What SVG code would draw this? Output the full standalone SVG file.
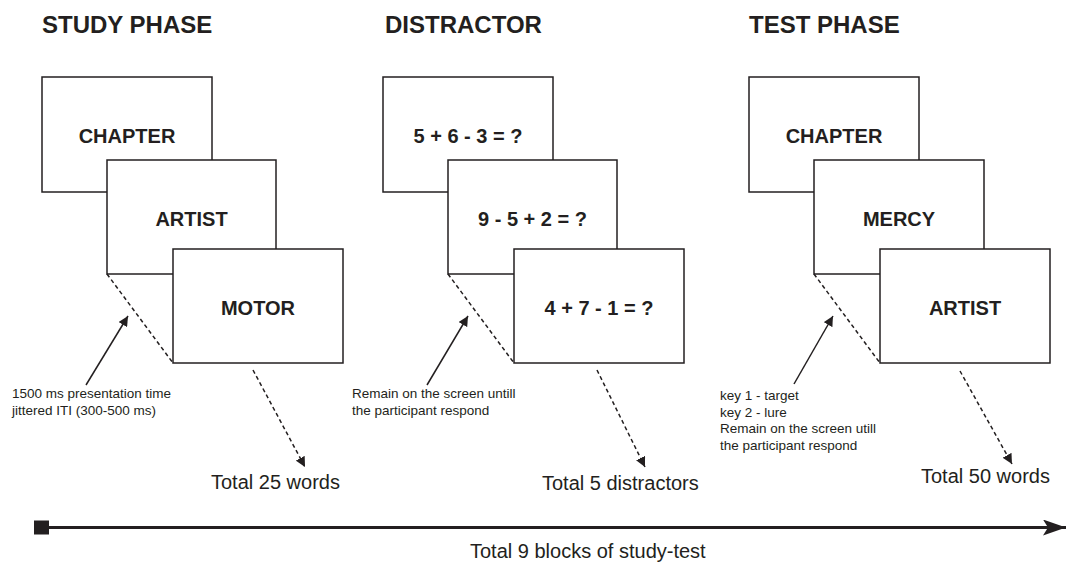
<svg xmlns="http://www.w3.org/2000/svg" width="1069" height="565" viewBox="0 0 1069 565">
<defs>
<style>
.title{font-family:"Liberation Sans",Arial,sans-serif;font-weight:bold;font-size:24px;fill:#231f20}
.box{fill:#fff;stroke:#231f20;stroke-width:1.5}
.bt{font-family:"Liberation Sans",Arial,sans-serif;font-weight:bold;font-size:20px;fill:#231f20;text-anchor:middle}
.ann{font-family:"Liberation Sans",Arial,sans-serif;font-size:13.5px;fill:#231f20}
.tot{font-family:"Liberation Sans",Arial,sans-serif;font-size:20px;fill:#231f20}
.dash{stroke:#231f20;stroke-width:1.5;stroke-dasharray:4 3;fill:none}
.solid{stroke:#231f20;stroke-width:1.5;fill:none}
</style>
<marker id="ah" markerUnits="userSpaceOnUse" markerWidth="11" markerHeight="10" refX="10" refY="5" orient="auto">
<path d="M0,0 L10,5 L0,10 z" fill="#231f20"/>
</marker>
<marker id="big" markerUnits="userSpaceOnUse" markerWidth="24" markerHeight="16" refX="23" refY="8" orient="auto">
<path d="M0,0 L23,8 L0,16 L5,8 z" fill="#231f20"/>
</marker>
</defs>

<g id="study">
<text class="title" x="42" y="33">STUDY PHASE</text>
<g id="study-1"><rect class="box" x="42" y="77" width="170" height="115"/><text class="bt" x="127" y="143">CHAPTER</text></g>
<g id="study-2"><rect class="box" x="107" y="160" width="169" height="114"/><text class="bt" x="191.5" y="226">ARTIST</text></g>
<g id="study-3"><rect class="box" x="173" y="249" width="170" height="114"/><text class="bt" x="258" y="315">MOTOR</text></g>
<g id="study-note"><text class="ann" x="12" y="398">1500 ms presentation time</text><text class="ann" x="12" y="415">jittered ITI (300-500 ms)</text></g>
<text id="study-total" class="tot" x="211" y="489">Total 25 words</text>
</g>

<g id="distractor">
<text class="title" x="385" y="33">DISTRACTOR</text>
<g id="dist-1"><rect class="box" x="383" y="77" width="170" height="115"/><text class="bt" x="468" y="143">5 + 6 - 3 = ?</text></g>
<g id="dist-2"><rect class="box" x="448" y="160" width="169" height="114"/><text class="bt" x="532.5" y="226">9 - 5 + 2 = ?</text></g>
<g id="dist-3"><rect class="box" x="514" y="249" width="170" height="114"/><text class="bt" x="599" y="315">4 + 7 - 1 = ?</text></g>
<g id="dist-note"><text class="ann" x="352" y="398">Remain on the screen untill</text><text class="ann" x="352" y="415">the participant respond</text></g>
<text id="dist-total" class="tot" x="542" y="490">Total 5 distractors</text>
</g>

<g id="test">
<text class="title" x="749" y="33">TEST PHASE</text>
<g id="test-1"><rect class="box" x="749" y="77" width="170" height="115"/><text class="bt" x="834" y="143">CHAPTER</text></g>
<g id="test-2"><rect class="box" x="814" y="160" width="170" height="114"/><text class="bt" x="899" y="226">MERCY</text></g>
<g id="test-3"><rect class="box" x="880" y="249" width="170" height="114"/><text class="bt" x="965" y="315">ARTIST</text></g>
<g id="test-note"><text class="ann" x="720" y="400">key 1 - target</text><text class="ann" x="720" y="417">key 2 - lure</text><text class="ann" x="720" y="433">Remain on the screen utill</text><text class="ann" x="720" y="450">the participant respond</text></g>
<text id="test-total" class="tot" x="921" y="483">Total 50 words</text>
</g>

<g id="timeline">
<rect x="34" y="520.5" width="15" height="14" fill="#231f20"/>
<text class="tot" x="470" y="558">Total 9 blocks of study-test</text>
</g>

<g id="connectors">
<line class="dash" x1="107" y1="274" x2="173" y2="363"/>
<line class="dash" x1="448" y1="274" x2="514" y2="363"/>
<line class="dash" x1="814" y1="274" x2="880" y2="363"/>
<line class="solid" x1="86" y1="385" x2="128" y2="316" marker-end="url(#ah)"/>
<line class="solid" x1="427" y1="385" x2="468" y2="316" marker-end="url(#ah)"/>
<line class="solid" x1="794" y1="384" x2="833" y2="316" marker-end="url(#ah)"/>
<line class="dash" x1="253" y1="370" x2="305" y2="467" marker-end="url(#ah)"/>
<line class="dash" x1="597" y1="370" x2="645" y2="467" marker-end="url(#ah)"/>
<line class="dash" x1="960" y1="371" x2="1012" y2="464" marker-end="url(#ah)"/>
<line x1="49" y1="527.5" x2="1066" y2="527.5" stroke="#231f20" stroke-width="3" marker-end="url(#big)"/>
</g>
</svg>
